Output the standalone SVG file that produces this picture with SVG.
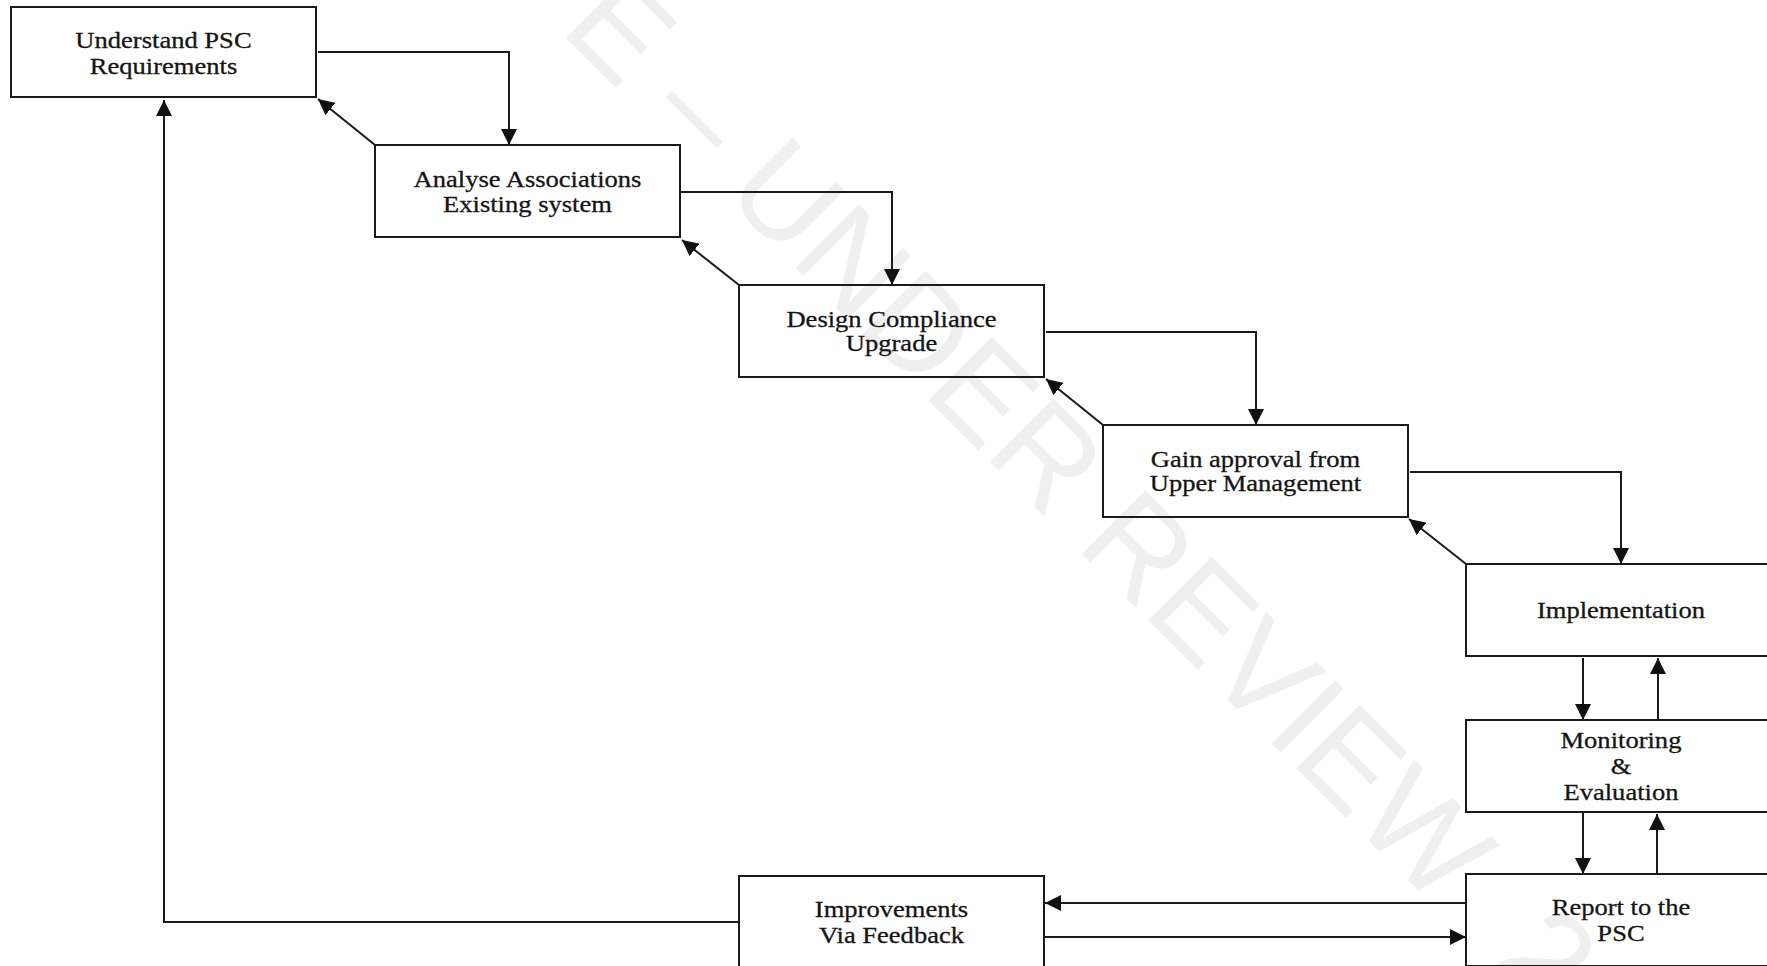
<svg xmlns="http://www.w3.org/2000/svg" width="1767" height="966" viewBox="0 0 1767 966">
  <style>
    .box { fill: none; stroke: #1a1a1a; stroke-width: 2; }
    .lbl { font-family: "Liberation Serif", "Times New Roman", serif; font-size: 23.5px; fill: #141414; stroke: #141414; stroke-width: 0.3; text-anchor: middle;
           transform-box: fill-box; transform-origin: center; transform: scaleX(1.13); }
    .wire { fill: none; stroke: #1a1a1a; stroke-width: 2; }
    .wire.arrow { marker-end: url(#head); }
    .wm { font-family: "Liberation Sans", Arial, sans-serif; font-size: 130px; fill: #efefef; }
  </style>
  <defs>
    <marker id="head" markerUnits="userSpaceOnUse" markerWidth="16" markerHeight="16" refX="16" refY="8" orient="auto">
      <path d="M0,0 L16,8 L0,16 Z" fill="#111"/>
    </marker>
  </defs>

  <rect width="1767" height="966" fill="#ffffff"/>

  <!-- diagonal stamp behind the chart -->
  <text class="wm" transform="translate(558.4,30.4) rotate(45)">E – UNDER REVIEW <tspan dx="40">2</tspan></text>

  <!-- connectors -->
  <g id="connectors">
    <!-- forward cascade -->
    <path class="wire arrow" d="M318,52 H509 V145"/>
    <path class="wire arrow" d="M681,192 H892 V285"/>
    <path class="wire arrow" d="M1046,332 H1256 V425"/>
    <path class="wire arrow" d="M1410,472 H1621 V564"/>
    <!-- feedback diagonals -->
    <path class="wire arrow" d="M375,145 L318,99"/>
    <path class="wire arrow" d="M739,285 L682,240"/>
    <path class="wire arrow" d="M1103,425 L1046,379"/>
    <path class="wire arrow" d="M1466,564 L1409,519"/>
    <!-- implementation / monitoring / report loop -->
    <path class="wire arrow" d="M1583,658 V720"/>
    <path class="wire arrow" d="M1658,720 V658"/>
    <path class="wire arrow" d="M1583,813 V874"/>
    <path class="wire arrow" d="M1657,874 V814"/>
    <!-- report <-> improvements -->
    <path class="wire arrow" d="M1466,903 H1045"/>
    <path class="wire arrow" d="M1044,937 H1466"/>
    <!-- improvements back to requirements -->
    <path class="wire arrow" d="M739,922 H164 V100"/>
  </g>

  <g id="understand">
    <rect class="box" x="11" y="7" width="305" height="90"/>
    <text class="lbl" x="163.5" y="48">Understand PSC</text>
    <text class="lbl" x="163.5" y="74">Requirements</text>
  </g>

  <g id="analyse">
    <rect class="box" x="375" y="145" width="305" height="92"/>
    <text class="lbl" x="527.5" y="187">Analyse Associations</text>
    <text class="lbl" x="527.5" y="212">Existing system</text>
  </g>

  <g id="design">
    <rect class="box" x="739" y="285" width="305" height="92"/>
    <text class="lbl" x="891.5" y="327">Design Compliance</text>
    <text class="lbl" x="891.5" y="351">Upgrade</text>
  </g>

  <g id="approval">
    <rect class="box" x="1103" y="425" width="305" height="92"/>
    <text class="lbl" x="1255.5" y="467">Gain approval from</text>
    <text class="lbl" x="1255.5" y="491">Upper Management</text>
  </g>

  <g id="implementation">
    <rect class="box" x="1466" y="564" width="310" height="92"/>
    <text class="lbl" x="1621" y="618">Implementation</text>
  </g>

  <g id="monitoring">
    <rect class="box" x="1466" y="720" width="310" height="92"/>
    <text class="lbl" x="1621" y="748">Monitoring</text>
    <text class="lbl" x="1621" y="774">&amp;</text>
    <text class="lbl" x="1621" y="800">Evaluation</text>
  </g>

  <g id="report">
    <rect class="box" x="1466" y="874" width="310" height="92"/>
    <text class="lbl" x="1621" y="915">Report to the</text>
    <text class="lbl" x="1621" y="941">PSC</text>
  </g>

  <g id="improvements">
    <rect class="box" x="739" y="876" width="305" height="92"/>
    <text class="lbl" x="891.5" y="917">Improvements</text>
    <text class="lbl" x="891.5" y="943">Via Feedback</text>
  </g>
</svg>
